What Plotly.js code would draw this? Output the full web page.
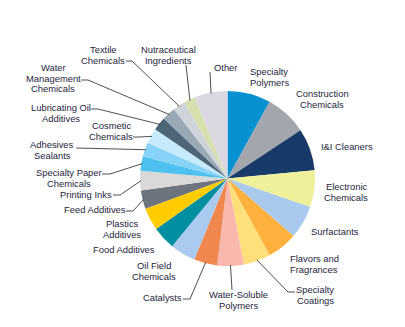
<!DOCTYPE html>
<html>
<head>
<meta charset="utf-8">
<script src="https://cdn.plot.ly/plotly-3.0.1.min.js"></script>
<style>html,body{margin:0;padding:0;background:#fff;}#chart{width:405px;height:327px;}</style>
</head>
<body>
<div id="chart"></div>
<script>
// ---- data ----
const categories = [
  "Specialty<br>Polymers", "Construction<br>Chemicals", "I&I Cleaners", "Electronic<br>Chemicals",
  "Surfactants", "Flavors and<br>Fragrances", "Specialty<br>Coatings", "Water-Soluble<br>Polymers",
  "Catalysts", "Oil Field<br>Chemicals", "Food Additives", "Plastics<br>Additives",
  "Feed Additives", "Printing Inks", "Specialty Paper<br>Chemicals", "Adhesives<br>Sealants",
  "Cosmetic<br>Chemicals", "Lubricating Oil<br>Additives", "Water<br>Management<br>Chemicals",
  "Textile<br>Chemicals", "Nutraceutical<br>Ingredients", "Other"
];
const shares = [8.0, 7.7, 7.8, 6.8, 6.1, 5.6, 5.0, 4.9, 4.3, 4.7, 4.3, 4.2,
                3.4, 3.6, 2.7, 2.6, 2.8, 2.5, 2.5, 2.3, 2.1, 6.1];

// ---- styles / layout ----
const colors = ["#0891d1", "#a3a6ad", "#183a68", "#eef09a", "#a9c9ef", "#ffb13d",
                "#ffdf7a", "#f9b8ad", "#f0874f", "#aacaf0", "#008fa0", "#ffcc00",
                "#6d747d", "#d9d9d9", "#4fc1f0", "#86d3f7", "#c6ebfd", "#4d6575",
                "#99a8b5", "#cfd3da", "#d6dfae", "#dcd8e2"];
const W = 405, H = 327, CX = 227.5, CY = 178.5, R = 87.5;
// label text block: center x, center y of the whole block (px)
const labelPos = [
  [269, 77], [322, 99], [347, 146], [346, 192], [335, 231], [314, 264], [315, 295],
  [238, 300], [162, 297], [154, 271], [124, 249], [122, 229], [95, 209], [86, 194],
  [69, 178], [52, 150], [111, 131], [61, 113], [53, 78], [103, 55], [168, 55], [225, 68]
];
// leader lines: slice index, attach x,y, elbow x,y (px)
const leaders = [
  [6, 295, 292, 288, 292], [7, 232, 290, 232, 290], [8, 183, 299, 190, 299],
  [12, 126, 211, 133, 211], [13, 113, 195, 120, 195], [14, 102, 174, 110, 174],
  [15, 76, 148, 76, 148], [16, 133, 137, 140, 137], [17, 91, 109, 98, 109],
  [18, 81, 80, 88, 80], [19, 126, 61, 132, 61], [20, 186, 65, 186, 65], [21, 210, 72, 210, 72]
];
const LINE_H = 10.6;
const textColor = "#1e1e3c";
const font = {family: "Arial, 'Liberation Sans', sans-serif", size: 9.4, color: textColor};

const px = x => x / W;
const py = y => 1 - y / H;

// mid-angles of slices from data
const total = shares.reduce((a, b) => a + b, 0);
const mids = [];
let cum = 0;
shares.forEach(v => { mids.push((cum + v / 2) / total * 2 * Math.PI); cum += v; });

const annotations = [];
categories.forEach((c, i) => {
  const lines = c.split("<br>");
  const y0 = labelPos[i][1] - (lines.length - 1) * LINE_H / 2;
  lines.forEach((line, k) => {
    annotations.push({
      xref: "paper", yref: "paper",
      x: px(labelPos[i][0]), y: py(y0 + k * LINE_H),
      text: line, showarrow: false, xanchor: "center", yanchor: "middle",
      borderpad: 0, font: font
    });
  });
});

const shapes = [];
const lineStyle = {color: "#222", width: 0.8};
leaders.forEach(([i, ax, ay, ex, ey]) => {
  const sx = CX + (R - 1) * Math.sin(mids[i]);
  const sy = CY - (R - 1) * Math.cos(mids[i]);
  shapes.push({type: "line", xref: "paper", yref: "paper",
    x0: px(sx), y0: py(sy), x1: px(ex), y1: py(ey), line: lineStyle});
  if (ex !== ax || ey !== ay) {
    shapes.push({type: "line", xref: "paper", yref: "paper",
      x0: px(ex), y0: py(ey), x1: px(ax), y1: py(ay), line: lineStyle});
  }
});

const trace = {
  type: "pie",
  labels: categories.map(c => c.replace(/<br>/g, " ")),
  values: shares,
  sort: false,
  direction: "clockwise",
  rotation: 0,
  textinfo: "none",
  hoverinfo: "label+percent",
  marker: {colors: colors, line: {width: 0}},
  domain: {x: [px(CX - R), px(CX + R)], y: [py(CY + R), py(CY - R)]},
  automargin: false
};

Plotly.newPlot("chart", [trace], {
  width: W, height: H,
  margin: {l: 0, r: 0, t: 0, b: 0},
  paper_bgcolor: "#fff", plot_bgcolor: "#fff",
  showlegend: false,
  annotations: annotations,
  shapes: shapes
}, {displayModeBar: false, staticPlot: true});
</script>
</body>
</html>
